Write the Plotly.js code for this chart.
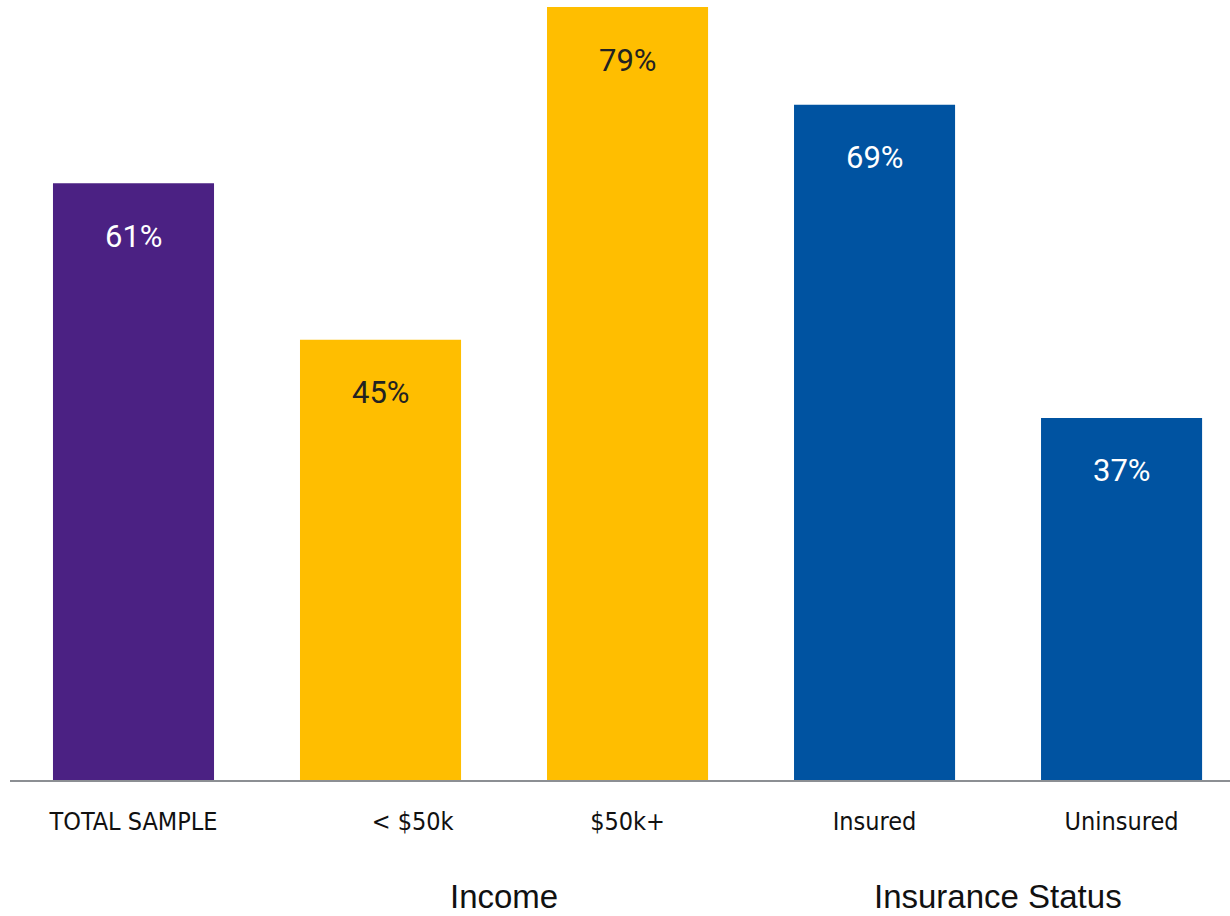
<!DOCTYPE html>
<html>
<head>
<meta charset="utf-8">
<script src="https://cdn.plot.ly/plotly-3.0.1.min.js"></script>
<style>html,body{margin:0;padding:0;background:#fff;}#chart{width:1230px;height:916px;}</style>
</head>
<body>
<div id="chart"></div>
<script>
const categories = ["TOTAL SAMPLE", "\u00a0\u00a0\u00a0\u00a0\u00a0\u00a0\u00a0\u00a0\u00a0< $50k", "$50k+", "Insured", "Uninsured"];
const values = [61, 45, 79, 69, 37];
const barColors = ["#4B2183", "#FFBE00", "#FFBE00", "#0053A1", "#0053A1"];
const labelColors = ["#ffffff", "#222222", "#222222", "#ffffff", "#ffffff"];
const groupLabels = ["Income", "Insurance Status"];
const groupCenters = [1.5, 3.5];

const trace = {
  type: "bar",
  x: categories.map((c, i) => i),
  y: values,
  marker: {color: barColors},
  width: 0.652,
  hoverinfo: "none"
};

const annotations = [];
values.forEach((v, i) => {
  annotations.push({
    x: i, y: v, xref: "x", yref: "y",
    text: v + "%", showarrow: false,
    yanchor: "middle", yshift: -53,
    font: {family: "Roboto, 'Liberation Sans', sans-serif", size: 31, color: labelColors[i]}
  });
});
groupLabels.forEach((g, i) => {
  annotations.push({
    x: groupCenters[i], y: 0, xref: "x", yref: "paper",
    text: g, showarrow: false,
    yanchor: "bottom", yshift: -136, borderpad: 0,
    font: {family: "'Liberation Sans', Arial, sans-serif", size: 33, color: "#111111"}
  });
});

const layout = {
  width: 1230, height: 916,
  margin: {l: 10, r: 0, t: 7, b: 136},
  paper_bgcolor: "#ffffff", plot_bgcolor: "#ffffff",
  showlegend: false,
  xaxis: {
    range: [-0.5, 4.439],
    tickmode: "array",
    tickvals: categories.map((c, i) => i),
    ticktext: categories,
    showline: true, linecolor: "#8c8f93", linewidth: 2,
    showgrid: false, zeroline: false, ticks: "",
    tickfont: {family: "'Liberation Sans Narrow', 'DejaVu Sans Condensed', sans-serif", size: 25, color: "#111111"},
    ticklabelstandoff: 18
  },
  yaxis: {
    range: [0, 79],
    visible: false, showgrid: false, zeroline: false
  },
  annotations: annotations
};

Plotly.newPlot("chart", [trace], layout, {displayModeBar: false, staticPlot: true});
</script>
</body>
</html>
